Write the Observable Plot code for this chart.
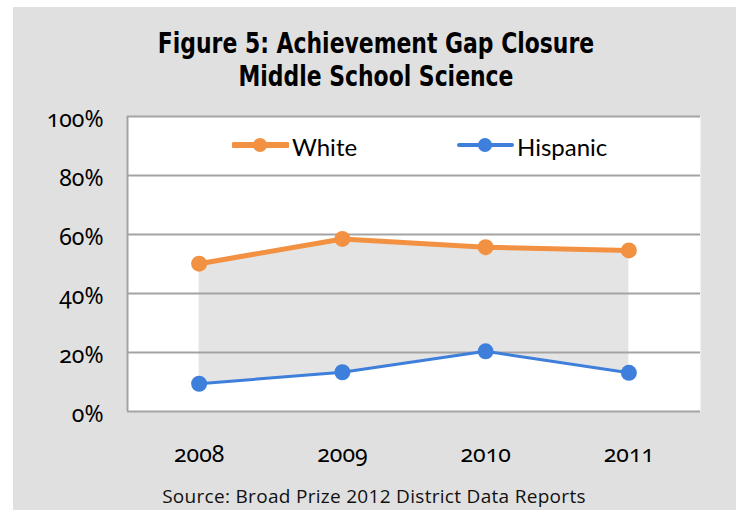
<!DOCTYPE html>
<html>
<head>
<meta charset="utf-8">
<script src="https://cdn.jsdelivr.net/npm/d3@7"></script>
<script src="https://cdn.jsdelivr.net/npm/@observablehq/plot@0.6"></script>
<style>
  html, body { margin: 0; padding: 0; background: #ffffff; overflow: hidden; }
  #page { position: relative; width: 736px; height: 510px; }
  #bg { position: absolute; left: 13px; top: 7px; width: 723px; height: 503px; background: #e0e0e0; }
  .title { position: absolute; left: 13px; width: 726px; text-align: center;
           font-family: "Liberation Sans Narrow", "DejaVu Sans Condensed", sans-serif;
           font-weight: bold; font-size: 28px; color: #000; white-space: nowrap; line-height: 1;
           transform: scaleX(0.87); transform-origin: 363px 0; }
  #caption { position: absolute; left: 13px; width: 722px; text-align: center; top: 487px;
             font-family: "Open Sans", sans-serif; font-size: 19px; letter-spacing: 0.3px; color: #111; white-space: nowrap; line-height: 1; }
  #chart { position: absolute; left: 0; top: 0; }
  .leg { position: absolute; top: 131px; height: 30px; display: flex; align-items: center;
         font-family: Lato, "Noto Sans", sans-serif; font-size: 24px; color: #000; }
  #chart svg text { font-feature-settings: "onum" 1; font-variant-numeric: oldstyle-nums; }
</style>
</head>
<body>
<div id="page">
  <div id="bg"></div>
  <div class="title" style="top:30px">Figure 5: Achievement Gap Closure</div>
  <div class="title" style="top:63px">Middle School Science</div>
  <div id="chart"></div>
  <div id="legend"></div>
  <div id="caption">Source: Broad Prize 2012 District Data Reports</div>
</div>
<script>
const years = [2008, 2009, 2010, 2011];
const white = [50.1, 58.5, 55.7, 54.6];
const hispanic = [9.4, 13.3, 20.4, 13.1];
const yTicks = [0, 20, 40, 60, 80, 100];
const seriesNames = ["White", "Hispanic"];
const seriesColors = ["#f39142", "#3f7fdc"];

const rows = years.map((y, i) => ({year: y, white: white[i], hispanic: hispanic[i]}));

const chart = Plot.plot({
  width: 736,
  height: 510,
  marginLeft: 127,
  marginRight: 36,
  marginTop: 116,
  marginBottom: 99,
  style: {background: "transparent", fontFamily: "'Noto Sans', Lato, sans-serif", fontSize: "23px", color: "#000"},
  x: {domain: [2007.5, 2011.5], label: null},
  y: {domain: [0, 100], label: null},
  marks: [
    Plot.frame({fill: "white", stroke: null}),
    Plot.areaY(rows, {x: "year", y1: "hispanic", y2: "white", fill: "#e4e4e4"}),
    Plot.ruleY(yTicks, {stroke: "#a3a3a3", strokeWidth: 2}),
    Plot.ruleX([2007.5], {y1: 0, y2: 100, stroke: "#a3a3a3", strokeWidth: 2}),
    Plot.axisY({ticks: yTicks, tickSize: 0, tickPadding: 24, tickFormat: d => d + "%", dy: 3, fontSize: 23, label: null}),
    Plot.axisX({ticks: years, tickSize: 0, tickPadding: 34, tickFormat: d => String(d), fontSize: 23, label: null}),
    Plot.line(rows, {x: "year", y: "white", stroke: seriesColors[0], strokeWidth: 5}),
    Plot.dot(rows, {x: "year", y: "white", r: 8, fill: seriesColors[0]}),
    Plot.line(rows, {x: "year", y: "hispanic", stroke: seriesColors[1], strokeWidth: 3}),
    Plot.dot(rows, {x: "year", y: "hispanic", r: 8, fill: seriesColors[1]})
  ]
});
document.getElementById("chart").appendChild(chart);

// legend
const legendPos = [232, 457];
const legWidths = [5, 3];
const legend = document.getElementById("legend");
seriesNames.forEach((name, i) => {
  const d = document.createElement("div");
  d.className = "leg";
  d.style.left = legendPos[i] + "px";
  d.innerHTML = `<svg width="57" height="30" style="margin-right:3px"><line x1="2" x2="55" y1="14" y2="14" stroke="${seriesColors[i]}" stroke-width="${legWidths[i]+1}" stroke-linecap="round"/><circle cx="28" cy="14" r="7" fill="${seriesColors[i]}"/></svg><span>${name}</span>`;
  legend.appendChild(d);
});
</script>
</body>
</html>
